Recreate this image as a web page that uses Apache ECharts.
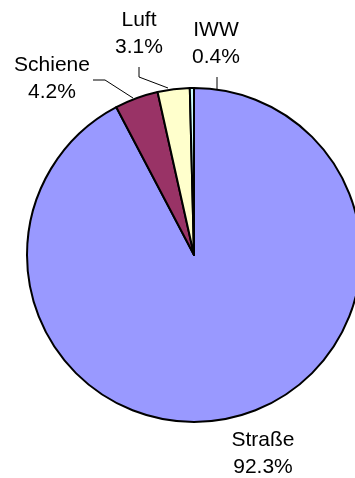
<!DOCTYPE html>
<html>
<head>
<meta charset="utf-8">
<script src="https://cdn.jsdelivr.net/npm/echarts@6/dist/echarts.min.js"></script>
<style>
  html, body { margin: 0; padding: 0; background: #ffffff; }
  #chart { width: 355px; height: 478px; }
</style>
</head>
<body>
<div id="chart"></div>
<script>
// Modal split (percent), clockwise from 12 o'clock
const categories = ['Straße', 'Schiene', 'Luft', 'IWW'];
const shares = [92.3, 4.2, 3.1, 0.4];
const colors = ['#9999FF', '#993366', '#FFFFCC', '#CCFFFF'];

// Label anchors and leader lines (pixel positions)
const labelSpots = [
  { x: 263, y: 454, line: null },
  { x: 52, y: 79, line: [[133, 98], [105, 80], [93, 80]] },
  { x: 139, y: 34, line: [[168, 88], [139, 77], [139, 67]] },
  { x: 216, y: 44, line: [[217, 89], [217, 78], [217, 77]] }
];

const data = categories.map((name, i) => ({
  name: name,
  value: shares[i],
  itemStyle: { color: colors[i] },
  labelLine: { show: labelSpots[i].line !== null }
}));

const chart = echarts.init(document.getElementById('chart'), null, { renderer: 'canvas' });
chart.setOption({
  animation: false,
  backgroundColor: '#ffffff',
  series: [{
    type: 'pie',
    center: [194, 255],
    radius: 167,
    startAngle: 90,
    clockwise: true,
    avoidLabelOverlap: false,
    itemStyle: { borderColor: '#000000', borderWidth: 2 },
    label: {
      show: true,
      position: 'outside',
      formatter: '{b}\n{c}%',
      color: '#000000',
      fontFamily: 'Liberation Sans, Arial, sans-serif',
      fontSize: 21,
      lineHeight: 27,
      align: 'center'
    },
    labelLine: {
      show: true,
      lineStyle: { color: '#000000', width: 1 }
    },
    labelLayout: function (params) {
      const s = labelSpots[params.dataIndex];
      const out = { x: s.x, y: s.y, align: 'center', verticalAlign: 'middle' };
      if (s.line) out.labelLinePoints = s.line;
      return out;
    },
    emphasis: { disabled: true },
    data: data
  }]
});
</script>
</body>
</html>
